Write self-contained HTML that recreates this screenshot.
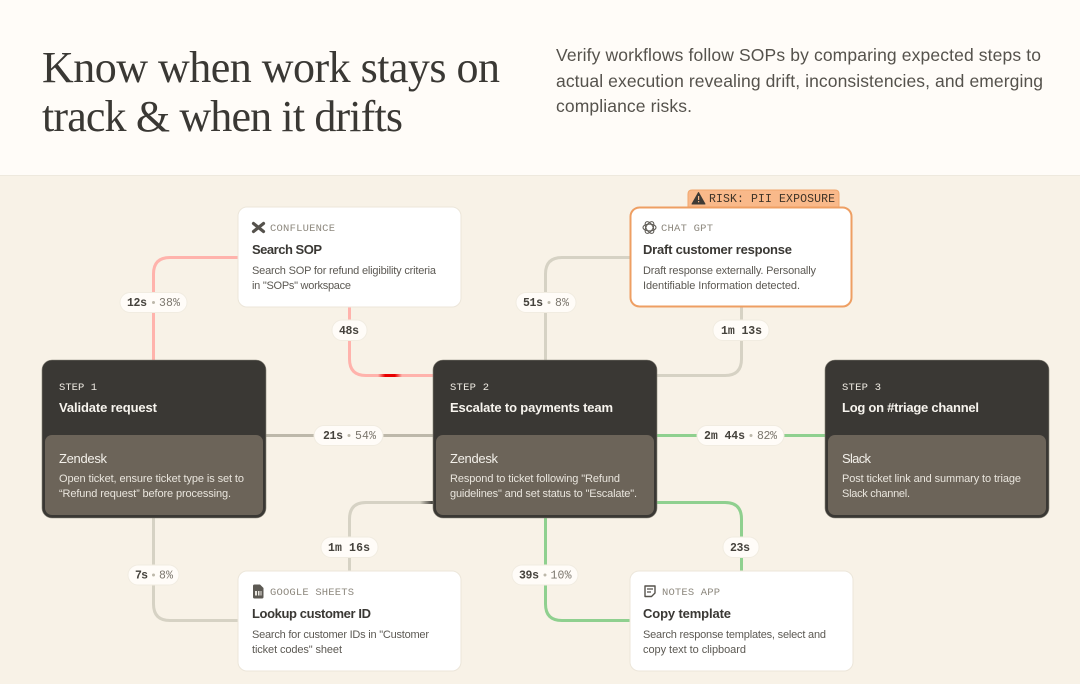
<!DOCTYPE html>
<html lang="en"><head><meta charset="utf-8"><title>Know when work stays on track</title>
<style>
html,body{margin:0;padding:0;background:#f8f2e7;width:1080px;height:684px;overflow:hidden}
svg{display:block}
text{white-space:pre}
.h{font-family:"Liberation Serif",serif;font-size:44px;fill:#3a3834}
.p{font-family:"Liberation Sans",sans-serif;font-size:17.5px;fill:#55524c}
.m{font-family:"Liberation Mono",monospace;font-size:10.5px}
.st{fill:#efebe3}.lb{fill:#8d887e}
.t{font-family:"Liberation Sans",sans-serif;font-size:13px;font-weight:700}
.tw{fill:#f7f4ee}.td{fill:#3a3834}
.z{font-family:"Liberation Sans",sans-serif;font-size:13px;fill:#f3f0ea}
.d{font-family:"Liberation Sans",sans-serif;font-size:11px}
.dw{fill:#e9e5dd}.dd{fill:#5c5953}
.pt{font-family:"Liberation Mono",monospace;font-size:11.5px;fill:#45423c;font-weight:700}
.pc{font-family:"Liberation Mono",monospace;font-size:11.5px;fill:#7b766d}
.r{font-family:"Liberation Mono",monospace;font-size:11.5px;fill:#3f3428}
.ln{fill:none;stroke-width:3}
.pill{fill:#fffcf8;stroke:#f1ecE1;stroke-width:1}
.card{fill:#fff;stroke:#ece6da;stroke-width:1}
.dark{fill:#3a3834;stroke:#8a867b;stroke-width:.6}
.in{fill:#6c6459}
</style></head><body>
<svg width="1080" height="684" viewBox="0 0 1080 684" xmlns="http://www.w3.org/2000/svg">
<defs>
<linearGradient id="rg" x1="0" x2="1" y1="0" y2="0"><stop offset="0" stop-color="#ffb3ac"/><stop offset=".3" stop-color="#e80000"/><stop offset=".7" stop-color="#e80000"/><stop offset="1" stop-color="#ffb3ac"/></linearGradient>
<linearGradient id="dg" x1="0" x2="1" y1="0" y2="0"><stop offset="0" stop-color="#d6d2c4"/><stop offset="1" stop-color="#33312d"/></linearGradient>
</defs>
<rect width="1080" height="176" fill="#fffcf8"/>
<rect y="175" width="1080" height="1" fill="#eee9de"/>
<rect y="176" width="1080" height="508" fill="#f8f2e7"/>

<text class="h" x="42" y="82" textLength="458">Know when work stays on</text>
<text class="h" x="42" y="131" textLength="361">track &amp; when it drifts</text>
<text class="p" x="556" y="61" textLength="485">Verify workflows follow SOPs by comparing expected steps to</text>
<text class="p" x="556" y="87" textLength="487">actual execution revealing drift, inconsistencies, and emerging</text>
<text class="p" x="556" y="112" textLength="136">compliance risks.</text>

<!-- connectors -->
<path class="ln" stroke="#ffb3ac" d="M238 257.500H170Q153.500 257.500 153.500 274V362"/>
<path class="ln" stroke="#ffb3ac" d="M349.500 305V359Q349.500 375.500 366 375.500H435"/>
<rect x="378" y="374" width="24" height="3" fill="url(#rg)"/>
<path class="ln" stroke="#d6d2c4" d="M545.500 362V274Q545.500 257.500 562 257.500H632"/>
<path class="ln" stroke="#d6d2c4" d="M741.500 305V359Q741.500 375.500 725 375.500H655"/>
<path class="ln" stroke="#bdb8aa" d="M264 435.500H435"/>
<path class="ln" stroke="#8fd08f" d="M655 435.500H827"/>
<path class="ln" stroke="#d6d2c4" d="M349.500 573V519Q349.500 502.500 366 502.500H435"/>
<rect x="420" y="501" width="14" height="3" fill="url(#dg)"/>
<path class="ln" stroke="#8fd08f" d="M741.500 573V519Q741.500 502.500 725 502.500H655"/>
<path class="ln" stroke="#d6d2c4" d="M153.500 516V604Q153.500 620.500 170 620.500H240"/>
<path class="ln" stroke="#8fd08f" d="M545.500 516V604Q545.500 620.500 562 620.500H632"/>

<!-- dark cards -->
<rect class="dark" x="42" y="360" width="224" height="158" rx="10"/>
<rect class="in" x="45" y="435" width="218" height="80" rx="7"/>
<text class="m st" x="59" y="390" textLength="38">STEP 1</text>
<text class="t tw" x="59" y="412" textLength="98">Validate request</text>
<text class="z" x="59" y="463" textLength="48">Zendesk</text>
<text class="d dw" x="59" y="482" textLength="185">Open ticket, ensure ticket type is set to</text>
<text class="d dw" x="59" y="497" textLength="172">“Refund request” before processing.</text>

<rect class="dark" x="433" y="360" width="224" height="158" rx="10"/>
<rect class="in" x="436" y="435" width="218" height="80" rx="7"/>
<text class="m st" x="450" y="390" textLength="39">STEP 2</text>
<text class="t tw" x="450" y="412" textLength="163">Escalate to payments team</text>
<text class="z" x="450" y="463" textLength="48">Zendesk</text>
<text class="d dw" x="450" y="482" textLength="170">Respond to ticket following "Refund</text>
<text class="d dw" x="450" y="497" textLength="187">guidelines" and set status to "Escalate".</text>

<rect class="dark" x="825" y="360" width="224" height="158" rx="10"/>
<rect class="in" x="828" y="435" width="218" height="80" rx="7"/>
<text class="m st" x="842" y="390" textLength="39">STEP 3</text>
<text class="t tw" x="842" y="412" textLength="137">Log on #triage channel</text>
<text class="z" x="842" y="463" textLength="29">Slack</text>
<text class="d dw" x="842" y="482" textLength="179">Post ticket link and summary to triage</text>
<text class="d dw" x="842" y="497" textLength="68">Slack channel.</text>

<!-- white cards -->
<rect class="card" x="238" y="207" width="223" height="100" rx="9"/>
<path d="M253.500 223.500L263.500 231.500M263.500 223.500L253.500 231.500" fill="none" stroke="#55524c" stroke-width="3.200" stroke-linecap="round"/>
<text class="m lb" x="270" y="231" textLength="65">CONFLUENCE</text>
<text class="t td" x="252" y="254" textLength="70">Search SOP</text>
<text class="d dd" x="252" y="274" textLength="184">Search SOP for refund eligibility criteria</text>
<text class="d dd" x="252" y="289" textLength="99">in "SOPs" workspace</text>

<path d="M688 207V194Q688 190 692 190H835Q839 190 839 194V207Z" fill="#f9b98a" stroke="#f1a76d"/>
<path d="M698.500 192.500L705 204H692Z" fill="#3f3a34" stroke="#3f3a34" stroke-linejoin="round"/>
<rect x="698" y="196" width="1.200" height="4" fill="#f9b98a"/><rect x="698" y="201" width="1.200" height="1.300" fill="#f9b98a"/>
<text class="r" x="709" y="202" textLength="126">RISK: PII EXPOSURE</text>
<rect x="630.500" y="207.500" width="221" height="99" rx="9" fill="#fff" stroke="#ee9f63" stroke-width="2"/>
<g fill="none" stroke="#5c5953" stroke-width="1">
<ellipse cx="649.500" cy="227.500" rx="6.500" ry="3.400"/>
<ellipse cx="649.500" cy="227.500" rx="6.500" ry="3.400" transform="rotate(60 649.500 227.500)"/>
<ellipse cx="649.500" cy="227.500" rx="6.500" ry="3.400" transform="rotate(120 649.500 227.500)"/>
</g>
<text class="m lb" x="661" y="231" textLength="52">CHAT GPT</text>
<text class="t td" x="643" y="254" textLength="149">Draft customer response</text>
<text class="d dd" x="643" y="274" textLength="173">Draft response externally. Personally</text>
<text class="d dd" x="643" y="289" textLength="157">Identifiable Information detected.</text>

<rect class="card" x="238" y="571" width="223" height="100" rx="9"/>
<path d="M253 586Q253 584.500 254.500 584.500H260L263.500 588V597Q263.500 598.500 262 598.500H254.500Q253 598.500 253 597Z" fill="#5c5953"/>
<rect x="255" y="591" width="6.500" height="4.500" fill="#e8e5df"/><rect x="257" y="591" width="1" height="4.500" fill="#5c5953"/><rect x="259.500" y="591" width="1" height="4.500" fill="#5c5953"/>
<text class="m lb" x="270" y="595" textLength="84">GOOGLE SHEETS</text>
<text class="t td" x="252" y="618" textLength="119">Lookup customer ID</text>
<text class="d dd" x="252" y="638" textLength="177">Search for customer IDs in "Customer</text>
<text class="d dd" x="252" y="653" textLength="90">ticket codes" sheet</text>

<rect class="card" x="630" y="571" width="223" height="100" rx="9"/>
<path d="M645 586H655V593L651.500 596.500H645Z" fill="none" stroke="#55524c" stroke-width="1.400" stroke-linejoin="round"/>
<path d="M647 589H653M647 592H651" stroke="#55524c" stroke-width="1.200"/>
<text class="m lb" x="662" y="595" textLength="58">NOTES APP</text>
<text class="t td" x="643" y="618" textLength="88">Copy template</text>
<text class="d dd" x="643" y="638" textLength="183">Search response templates, select and</text>
<text class="d dd" x="643" y="653" textLength="103">copy text to clipboard</text>

<!-- pills -->
<g>
<rect class="pill" x="120" y="292.500" width="67" height="20" rx="10"/>
<text class="pt" x="127" y="306" textLength="20">12s</text><circle cx="153.500" cy="302.500" r="1.500" fill="#bdb8aa"/><text class="pc" x="159" y="306" textLength="21">38%</text>

<rect class="pill" x="332" y="320" width="35" height="20.500" rx="10"/>
<text class="pt" x="339" y="334" textLength="20">48s</text>

<rect class="pill" x="516" y="292.500" width="60" height="20" rx="10"/>
<text class="pt" x="523" y="306" textLength="20">51s</text><circle cx="549" cy="302.500" r="1.500" fill="#bdb8aa"/><text class="pc" x="555" y="306" textLength="14">8%</text>

<rect class="pill" x="713" y="320" width="56" height="20.500" rx="10"/>
<text class="pt" x="721" y="334" textLength="41">1m 13s</text>

<rect class="pill" x="314" y="425.500" width="69" height="20" rx="10"/>
<text class="pt" x="323" y="439" textLength="20">21s</text><circle cx="349" cy="435.500" r="1.500" fill="#bdb8aa"/><text class="pc" x="355" y="439" textLength="21">54%</text>

<rect class="pill" x="697" y="425.500" width="87" height="20" rx="10"/>
<text class="pt" x="704" y="439" textLength="41">2m 44s</text><circle cx="751" cy="435.500" r="1.500" fill="#bdb8aa"/><text class="pc" x="757" y="439" textLength="20">82%</text>

<rect class="pill" x="128" y="565" width="51" height="20" rx="10"/>
<text class="pt" x="135" y="578.500" textLength="13">7s</text><circle cx="153.500" cy="575" r="1.500" fill="#bdb8aa"/><text class="pc" x="159" y="578.500" textLength="14">8%</text>

<rect class="pill" x="321" y="537" width="57" height="20.500" rx="10"/>
<text class="pt" x="328" y="551" textLength="42">1m 16s</text>

<rect class="pill" x="512" y="565" width="66" height="20" rx="10"/>
<text class="pt" x="519" y="578.500" textLength="20">39s</text><circle cx="545" cy="575" r="1.500" fill="#bdb8aa"/><text class="pc" x="550.500" y="578.500" textLength="21">10%</text>

<rect class="pill" x="723" y="537" width="36" height="20.500" rx="10"/>
<text class="pt" x="730" y="551" textLength="20">23s</text>
</g>
</svg>
</body></html>
